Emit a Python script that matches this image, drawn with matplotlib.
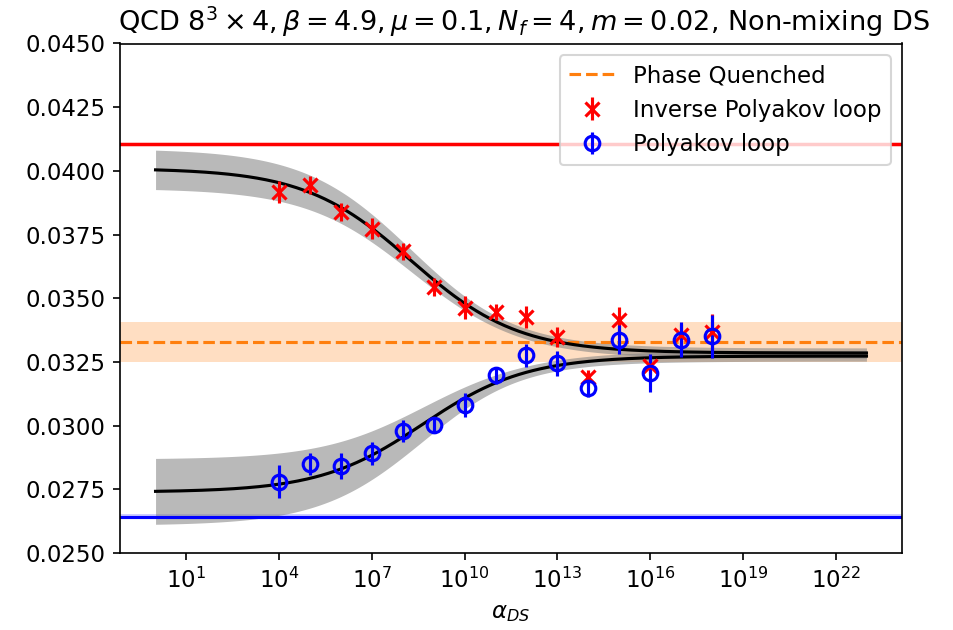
import numpy as np
import matplotlib
matplotlib.use("Agg")
import matplotlib.pyplot as plt
from matplotlib.ticker import MultipleLocator, NullLocator, FormatStrFormatter

plt.rcParams["font.size"] = 11

# exponents of alpha_DS for the measured points
log_alpha = [4, 5, 6, 7, 8, 9, 10, 11, 12, 13, 14, 15, 16, 17, 18]

# inverse polyakov loop
inv_pl = [0.03917, 0.03946, 0.03838, 0.03773, 0.03684, 0.03544, 0.03463, 0.03446,
          0.03427, 0.03348, 0.03189, 0.03416, 0.03233, 0.03355, 0.03368]
inv_pl_err = [0.00045, 0.00035, 0.00036, 0.00042, 0.00033, 0.00036, 0.00045, 0.00033,
              0.00042, 0.00040, 0.00030, 0.00049, 0.00036, 0.00042, 0.00070]

# polyakov loop
pl = [0.02780, 0.02849, 0.02841, 0.02891, 0.02978, 0.03002, 0.03080, 0.03198,
      0.03276, 0.03244, 0.03146, 0.03338, 0.03207, 0.03338, 0.03351]
pl_err = [0.00065, 0.00044, 0.00050, 0.00046, 0.00044, 0.00030, 0.00047, 0.00033,
          0.00046, 0.00050, 0.00033, 0.00056, 0.00075, 0.00070, 0.00085]

# reference values without DS
pq_val, pq_err = 0.03328, 0.00080     # phase quenched
inv_pl_0, inv_pl_0_err = 0.04105, 0.00010
pl_0, pl_0_err = 0.02642, 0.00010

# sigmoid fit params in log10(alpha): [start, end, t0, width], errors [start, end, t0]
inv_fit = [0.04010, 0.03285, 8.27, 1.73]
inv_fit_err = [0.00078, 0.00020, 0.15]
pl_fit = [0.02739, 0.03273, 8.65, 1.674]
pl_fit_err = [0.00130, 0.00020, 0.15]


def sigmoid(t, p, perr):
    a, b, t0, w = p
    s = 1.0 / (1.0 + np.exp(-(t - t0) / w))
    y = a + (b - a) * s
    slope = (b - a) * s * (1 - s) / w
    dy = np.sqrt((perr[0] * (1 - s))**2 + (perr[1] * s)**2 + (perr[2] * slope)**2)
    return y, dy


t_fit = np.linspace(0, 23, 400)
x_fit = 10.0**t_fit
x_data = 10.0**np.array(log_alpha, dtype=float)

fig = plt.figure(figsize=(953 / 150, 630 / 150), dpi=150)
ax = fig.add_axes([120 / 953, 77 / 630, 782 / 953, 509.5 / 630])

# phase quenched band
ax.axhspan(pq_val - pq_err, pq_val + pq_err, color="C1", alpha=0.25, lw=0)
ax.axhline(pq_val, color="C1", ls="--", label="Phase Quenched")

# DS-free values
ax.axhspan(inv_pl_0 - inv_pl_0_err, inv_pl_0 + inv_pl_0_err, color="red", alpha=0.2, lw=0)
ax.axhline(inv_pl_0, color="red")
ax.axhspan(pl_0 - pl_0_err, pl_0 + pl_0_err, color="blue", alpha=0.2, lw=0)
ax.axhline(pl_0, color="blue")

# fits
for p, perr in [(inv_fit, inv_fit_err), (pl_fit, pl_fit_err)]:
    y, dy = sigmoid(t_fit, p, perr)
    ax.fill_between(x_fit, y - dy, y + dy, color="gray", alpha=0.55, lw=0)
    ax.plot(x_fit, y, color="black", lw=1.5)

ax.errorbar(x_data, inv_pl, yerr=inv_pl_err, fmt="x", color="red", ms=7, mew=1.5,
            label="Inverse Polyakov loop")
ax.errorbar(x_data, pl, yerr=pl_err, fmt="o", color="blue", mfc="none", ms=7, mew=1.5,
            label="Polyakov loop")

ax.set_xscale("log")
ax.set_xlim(10**-1.15, 10**24.15)
ax.set_xticks(10.0**np.arange(1, 23, 3))
ax.xaxis.set_minor_locator(NullLocator())
ax.set_ylim(0.025, 0.045)
ax.yaxis.set_major_locator(MultipleLocator(0.0025))
ax.yaxis.set_major_formatter(FormatStrFormatter("%.4f"))

ax.set_xlabel(r"$\alpha_{DS}$")
ax.set_title(r"QCD $8^3\times 4, \beta=4.9, \mu=0.1, N_f=4, m=0.02$, Non-mixing DS",
             fontsize=13, x=0.517)
ax.legend(loc="upper right")

fig.savefig("out.png", dpi=150)
